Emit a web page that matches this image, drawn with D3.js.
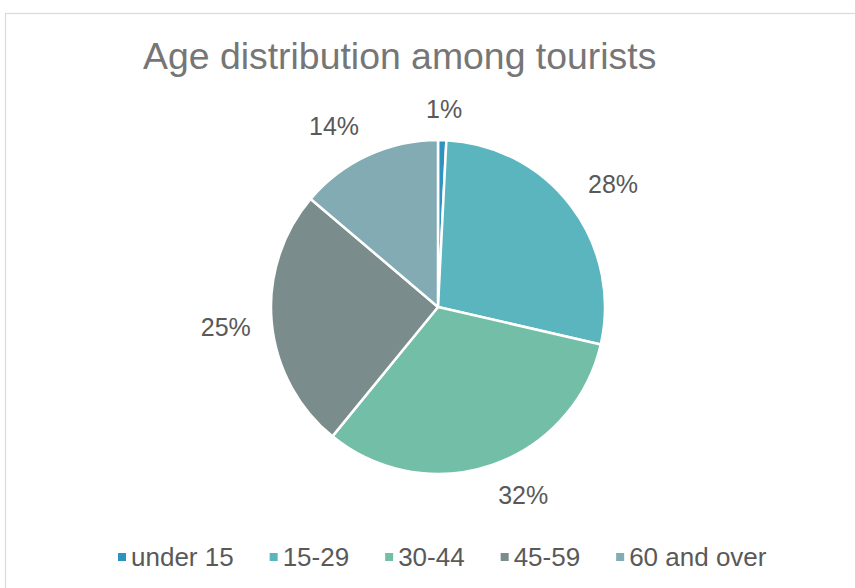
<!DOCTYPE html>
<html>
<head>
<meta charset="utf-8">
<script src="https://cdn.jsdelivr.net/npm/d3@7"></script>
<style>
  html, body { margin: 0; padding: 0; background: #ffffff; }
  svg { display: block; }
</style>
</head>
<body>
<svg id="chart" width="855" height="588"></svg>
<script>
const title = "Age distribution among tourists";
const categories = ["under 15", "15-29", "30-44", "45-59", "60 and over"];
const values = [0.8, 27.8, 32.3, 25.3, 13.8];
const valueLabels = ["1%", "28%", "32%", "25%", "14%"];
const colors = ["#2e93c0", "#5ab5be", "#73bea6", "#7a8c8b", "#83abb3"];

const W = 855, H = 588;
const svg = d3.select("#chart");
const font = "'Liberation Sans', Arial, sans-serif";

// chart border (extends past the window on right and bottom)
svg.append("rect")
  .attr("x", 5.5).attr("y", 13.5)
  .attr("width", W + 20).attr("height", H + 20)
  .attr("fill", "#ffffff")
  .attr("stroke", "#d9d9d9").attr("stroke-width", 1.2);

// title
svg.append("text")
  .attr("x", 143).attr("y", 69)
  .attr("font-family", font).attr("font-size", 37.4)
  .attr("fill", "#767676")
  .text(title);

const cx = 438, cy = 307, R = 167;
const data = categories.map((c, i) => ({ cat: c, value: values[i], label: valueLabels[i], color: colors[i] }));

const pie = d3.pie().value(d => d.value).sort(null);
const arc = d3.arc().innerRadius(0).outerRadius(R);
const arcs = pie(data);

const g = svg.append("g").attr("transform", `translate(${cx},${cy})`);
g.selectAll("path.slice").data(arcs).enter().append("path")
  .attr("class", "slice")
  .attr("d", arc)
  .attr("fill", d => d.data.color)
  .attr("stroke", "#ffffff").attr("stroke-width", 2.5)
  .attr("stroke-linejoin", "round");

// labels outside end
const labelR = R + 21;
const clamp = v => Math.max(-1, Math.min(1, v));
g.selectAll("text.lbl").data(arcs).enter().append("text")
  .attr("class", "lbl")
  .attr("font-family", font).attr("font-size", 25)
  .attr("fill", "#595959")
  .attr("text-anchor", "middle")
  .attr("dominant-baseline", "central")
  .text(d => d.data.label)
  .each(function(d) {
    const bb = this.getBBox();
    const hw = bb.width / 2, hh = bb.height / 2 * 0.72;
    const a = (d.startAngle + d.endAngle) / 2;
    const s = Math.sin(a), c = Math.cos(a);
    const x = s * labelR + hw * clamp(s * 3);
    const y = -c * labelR - hh * clamp(c * 3);
    d3.select(this).attr("x", x).attr("y", y);
  });

// legend
const legend = svg.append("g").attr("transform", "translate(0,557)");
const items = legend.selectAll("g.item").data(data).enter().append("g").attr("class", "item");
items.append("rect")
  .attr("y", -4).attr("width", 8).attr("height", 8)
  .attr("fill", d => d.color);
items.append("text")
  .attr("x", 13).attr("y", 0)
  .attr("dominant-baseline", "central")
  .attr("font-family", font).attr("font-size", 26)
  .attr("fill", "#595959")
  .text(d => d.cat);
// lay out left to right
const spacing = 36;
let xPos = 118;
items.each(function(d, i) {
  const sel = d3.select(this);
  sel.attr("transform", `translate(${xPos},0)`);
  xPos += 13 + sel.select("text").node().getComputedTextLength() + spacing;
});
</script>
</body>
</html>
